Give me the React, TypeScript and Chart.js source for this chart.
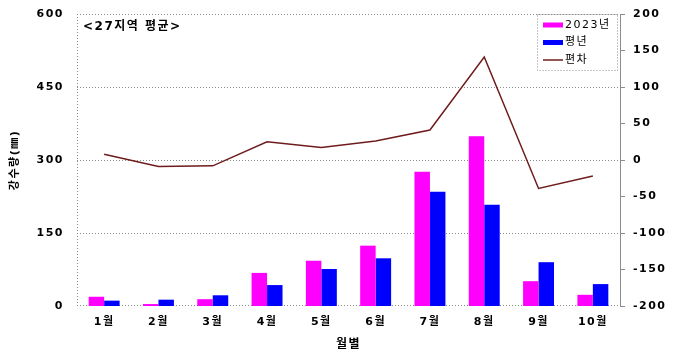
import { useEffect, useRef } from 'react';
import { Chart, registerables } from 'chart.js';

Chart.register(...registerables);

// 월별 강수량 (27지역 평균, 단위 ㎜)
const months = ['1월', '2월', '3월', '4월', '5월', '6월', '7월', '8월', '9월', '10월'];
const rain2023 = [19, 4, 14, 68, 93, 124, 276, 349, 51, 23];
const rainNormal = [11, 13, 22, 43, 76, 98, 235, 208, 90, 45];
const deviation = [8, -9, -8, 25, 17, 26, 41, 141, -39, -22];

const leftGridValues = [150, 300, 450];
const legendOrder = ['2023년', '평년', '편차'];
const subtitle = '<27지역 평균>';

const FAMILY = '"DejaVu Sans", "Noto Sans CJK KR", sans-serif';
const GRID = '#8c8c8c';

const spacingPlugin = {
  id: 'spacing',
  beforeLayout(chart: any) {
    chart.ctx.letterSpacing = '1.5px';
  },
  beforeDraw(chart: any) {
    chart.ctx.letterSpacing = '1.5px';
  },
};

// dotted frame and horizontal grid of the plot area
const framePlugin = {
  id: 'frame',
  beforeDatasetsDraw(chart: any) {
    const { ctx, chartArea } = chart;
    const { left, right, top, bottom } = chartArea;
    const y = chart.scales.y;
    ctx.save();
    ctx.strokeStyle = GRID;
    ctx.lineWidth = 1;
    ctx.setLineDash([1, 2]);
    ctx.beginPath();
    for (const v of leftGridValues) {
      const py = Math.round(y.getPixelForValue(v)) + 0.5;
      ctx.moveTo(left, py);
      ctx.lineTo(right, py);
    }
    ctx.moveTo(left, Math.round(top) + 0.5);
    ctx.lineTo(right, Math.round(top) + 0.5);
    ctx.moveTo(Math.round(left) + 0.5, top);
    ctx.lineTo(Math.round(left) + 0.5, bottom);
    ctx.moveTo(left, Math.round(bottom) - 0.5);
    ctx.lineTo(right, Math.round(bottom) - 0.5);
    ctx.stroke();
    ctx.restore();
  },
};

// subtitle and legend box inside the plot area
const overlayPlugin = {
  id: 'overlay',
  afterDraw(chart: any) {
    const { ctx, chartArea } = chart;
    ctx.save();
    ctx.letterSpacing = '1.5px';
    ctx.fillStyle = '#000';
    ctx.textBaseline = 'middle';
    ctx.textAlign = 'left';
    ctx.font = `bold 12px ${FAMILY}`;
    ctx.fillText(subtitle, chartArea.left + 6, chartArea.top + 13);

    const boxRight = chartArea.right - 3;
    const boxLeft = boxRight - 80;
    const boxTop = chartArea.top;
    const boxBottom = boxTop + 56;
    ctx.fillStyle = '#fff';
    ctx.fillRect(boxLeft, boxTop + 1, boxRight - boxLeft, boxBottom - boxTop - 1);
    ctx.strokeStyle = GRID;
    ctx.setLineDash([1, 2]);
    ctx.strokeRect(boxLeft + 0.5, boxTop + 0.5, boxRight - boxLeft, boxBottom - boxTop);
    ctx.setLineDash([]);

    const byLabel: Record<string, any> = {};
    chart.data.datasets.forEach((d: any) => (byLabel[d.label] = d));
    legendOrder.forEach((label, i) => {
      const ds = byLabel[label];
      const cy = boxTop + 11 + i * 17.5;
      const sx = boxLeft + 6;
      if (ds.type === 'line') {
        ctx.strokeStyle = ds.borderColor;
        ctx.lineWidth = 1.5;
        ctx.beginPath();
        ctx.moveTo(sx, cy);
        ctx.lineTo(sx + 20, cy);
        ctx.stroke();
      } else {
        ctx.fillStyle = ds.backgroundColor;
        ctx.fillRect(sx, cy - 2.5, 20, 5);
      }
      ctx.fillStyle = '#000';
      ctx.font = `11px ${FAMILY}`;
      ctx.fillText(label, sx + 22, cy);
    });
    ctx.restore();
  },
};

export default function App() {
  const canvasRef = useRef<HTMLCanvasElement | null>(null);

  useEffect(() => {
    const canvas = canvasRef.current;
    if (!canvas) return;
    const tickFont = { family: FAMILY, size: 11, weight: 'bold' as const };
    const chart = new Chart(canvas, {
      type: 'bar',
      data: {
        labels: months,
        datasets: [
          {
            type: 'line',
            label: '편차',
            data: deviation,
            yAxisID: 'y1',
            borderColor: '#6e1c1c',
            borderWidth: 1.5,
            pointRadius: 0,
            tension: 0,
            order: 0,
          } as any,
          {
            type: 'bar',
            label: '2023년',
            data: rain2023,
            yAxisID: 'y',
            backgroundColor: '#ff00ff',
            categoryPercentage: 0.57,
            barPercentage: 1,
            order: 1,
          },
          {
            type: 'bar',
            label: '평년',
            data: rainNormal,
            yAxisID: 'y',
            backgroundColor: '#0000ff',
            categoryPercentage: 0.57,
            barPercentage: 1,
            order: 1,
          },
        ],
      },
      options: {
        responsive: false,
        animation: false,
        devicePixelRatio: 1,
        layout: { padding: { top: 14, left: 0, right: 0, bottom: 0 } },
        plugins: { legend: { display: false }, tooltip: { enabled: false } },
        scales: {
          x: {
            grid: { display: false, drawTicks: false },
            border: { display: false },
            ticks: { color: '#000', font: tickFont, padding: 10, maxRotation: 0, autoSkip: false },
            title: {
              display: true,
              text: '월별',
              color: '#000',
              font: { family: FAMILY, size: 12, weight: 'bold' },
              padding: { top: 0, bottom: 3 },
            },
            afterFit: (s: any) => {
              s.height = 49;
              s.paddingLeft = 0;
              s.paddingRight = 0;
            },
          },
          y: {
            position: 'left',
            min: 0,
            max: 600,
            grid: { display: false, drawTicks: false },
            border: { display: false },
            ticks: { stepSize: 150, color: '#000', font: tickFont, padding: 13 },
            title: {
              display: true,
              text: '강수량(㎜)',
              color: '#000',
              font: { family: FAMILY, size: 11, weight: 'bold' },
              padding: { top: 9, bottom: 0 },
            },
            afterFit: (s: any) => {
              s.width = 77;
              s.paddingTop = 0;
              s.paddingBottom = 0;
            },
          },
          y1: {
            position: 'right',
            min: -200,
            max: 200,
            grid: {
              drawOnChartArea: false,
              drawTicks: true,
              tickLength: 5,
              color: GRID,
              tickColor: GRID,
            },
            border: { display: true, color: GRID, width: 1 },
            ticks: { stepSize: 50, color: '#000', font: tickFont, padding: 8 },
            afterFit: (s: any) => {
              s.width = 53;
              s.paddingTop = 0;
              s.paddingBottom = 0;
            },
          },
        },
      },
      plugins: [spacingPlugin, framePlugin, overlayPlugin],
    });
    return () => chart.destroy();
  }, []);

  return (
    <div style={{ position: 'fixed', left: 0, top: 0, width: 673, height: 355, background: '#fff' }}>
      <canvas ref={canvasRef} width={673} height={355} style={{ display: 'block' }} />
    </div>
  );
}
